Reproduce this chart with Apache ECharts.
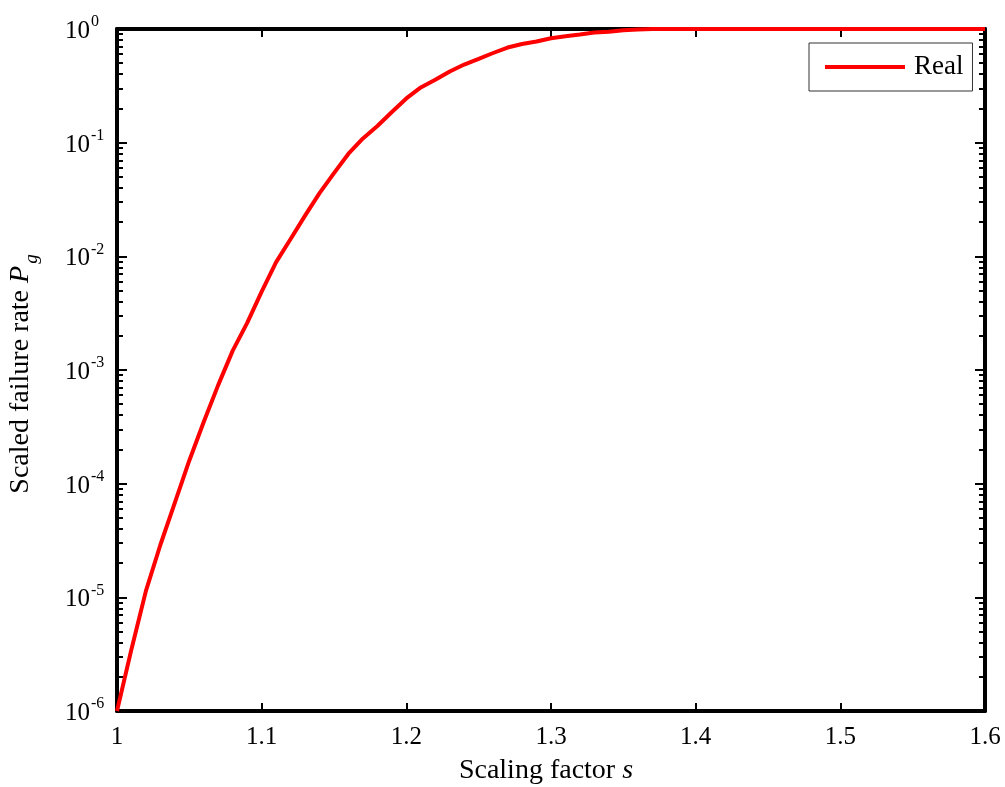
<!DOCTYPE html>
<html>
<head>
<meta charset="utf-8">
<script src="https://cdn.jsdelivr.net/npm/echarts@6/dist/echarts.min.js"></script>
<style>
html,body{margin:0;padding:0;background:#fff;}
#chart{width:1005px;height:787px;}
</style>
</head>
<body>
<div id="chart"></div>
<script>
// Scaling factor s
const sValues = [1.00,1.01,1.02,1.03,1.04,1.05,1.06,1.07,1.08,1.09,
  1.10,1.11,1.12,1.13,1.14,1.15,1.16,1.17,1.18,1.19,
  1.20,1.21,1.22,1.23,1.24,1.25,1.26,1.27,1.28,1.29,
  1.30,1.31,1.32,1.33,1.34,1.35,1.36,1.37,1.40,1.45,1.50,1.55,1.60];
// Scaled failure rate Pg
const pValues = [1e-6,3.5e-6,1.14e-5,2.9e-5,6.8e-5,1.6e-4,3.5e-4,7.4e-4,1.48e-3,2.6e-3,
  4.9e-3,8.9e-3,1.42e-2,2.28e-2,3.6e-2,5.4e-2,8.0e-2,0.109,0.140,0.186,
  0.245,0.306,0.357,0.423,0.487,0.547,0.615,0.687,0.738,0.776,
  0.830,0.865,0.895,0.930,0.945,0.975,0.988,1.0,1.0,1.0,1.0,1.0,1.0];
const xTickLabels = ['1','1.1','1.2','1.3','1.4','1.5','1.6'];
const yExponents = [-6,-5,-4,-3,-2,-1,0];
const seriesName = 'Real';

const FONT = '"Liberation Serif", "Times New Roman", serif';
const minorVals = [];
for (let e = -6; e < 0; e++) {
  for (let k = 2; k <= 9; k++) minorVals.push(k * Math.pow(10, e));
}
const data = sValues.map((s, i) => [s, pValues[i]]);

const chart = echarts.init(document.getElementById('chart'), null, {renderer: 'canvas'});

const axisLineStyle = {color: '#000', width: 4};
function yAxisDef(pos, major, showLabel) {
  return {
    type: 'log', logBase: 10, min: 1e-6, max: 1, position: pos,
    axisLine: {show: major, onZero: false, lineStyle: axisLineStyle},
    axisTick: major ? {show: true, inside: true, length: 10, lineStyle: {color: '#000', width: 2}}
                    : {show: true, inside: true, length: 6, customValues: minorVals, lineStyle: {color: '#000', width: 2}},
    axisLabel: {
      show: showLabel, margin: 52, align: 'left',
      formatter: function (v) {
        const e = Math.round(Math.log10(v));
        return '{b|10}{s|' + yExponents[yExponents.indexOf(e)] + '}';
      },
      rich: {
        b: {fontFamily: FONT, fontSize: 25, color: '#000', lineHeight: 30, verticalAlign: 'bottom', padding: [12, 0, 0, 0]},
        s: {fontFamily: FONT, fontSize: 16, color: '#000', lineHeight: 30, verticalAlign: 'top', padding: [0, 0, 14, 1]}
      }
    },
    splitLine: {show: false}, minorTick: {show: false}, minorSplitLine: {show: false}
  };
}

const option = {
  animation: false,
  backgroundColor: '#fff',
  grid: {left: 117, right: 20, top: 29, bottom: 76, containLabel: false},
  xAxis: [
    {
      type: 'value', min: 1, max: 1.6, interval: 0.1, position: 'bottom',
      axisLine: {onZero: false, lineStyle: axisLineStyle},
      axisTick: {inside: true, length: 8, lineStyle: {color: '#000', width: 2}},
      axisLabel: {
        margin: 14, fontFamily: FONT, fontSize: 25, color: '#000',
        formatter: function (v) { return xTickLabels[Math.round((v - 1) * 10)]; }
      },
      splitLine: {show: false}
    },
    {
      type: 'value', min: 1, max: 1.6, interval: 0.1, position: 'top',
      axisLine: {onZero: false, lineStyle: axisLineStyle},
      axisTick: {inside: true, length: 8, lineStyle: {color: '#000', width: 2}},
      axisLabel: {show: false},
      splitLine: {show: false}
    }
  ],
  yAxis: [
    yAxisDef('left', true, true),
    yAxisDef('left', false, false),
    yAxisDef('right', true, false),
    yAxisDef('right', false, false)
  ],
  legend: {
    data: [{name: seriesName, icon: 'rect'}],
    left: 809, top: 43,
    orient: 'vertical',
    backgroundColor: '#fff',
    borderColor: '#333', borderWidth: 1,
    padding: [10, 9, 10, 16],
    itemWidth: 80, itemHeight: 4, itemGap: 0,
    textStyle: {fontFamily: FONT, fontSize: 27, color: '#000', lineHeight: 28, padding: [0, 0, 0, 4]}
  },
  series: [{
    name: seriesName,
    type: 'line',
    xAxisIndex: 0, yAxisIndex: 0,
    data: data,
    symbol: 'none',
    smooth: false,
    lineStyle: {color: '#ff0000', width: 4},
    itemStyle: {color: '#ff0000'},
    z: 5
  }],
  graphic: [
    {
      type: 'text', id: 'xt',
      x: 546, y: 771,
      style: {
        text: '{n|Scaling factor }{i|s}',
        align: 'center', verticalAlign: 'middle',
        rich: {
          n: {fontFamily: FONT, fontSize: 28, fill: '#000'},
          i: {fontFamily: FONT, fontSize: 28, fontStyle: 'italic', fill: '#000'}
        }
      }
    },
    {
      type: 'text', id: 'yt',
      x: 24, y: 374, rotation: Math.PI / 2,
      style: {
        text: '{n|Scaled failure rate }{i|P}{g|g}',
        align: 'center', verticalAlign: 'middle',
        rich: {
          n: {fontFamily: FONT, fontSize: 28, fill: '#000', lineHeight: 34, verticalAlign: 'top'},
          i: {fontFamily: FONT, fontSize: 28, fontStyle: 'italic', fill: '#000', lineHeight: 34, verticalAlign: 'top'},
          g: {fontFamily: FONT, fontSize: 19, fontStyle: 'italic', fill: '#000', lineHeight: 34, verticalAlign: 'bottom', padding: [16, 0, 0, 2]}
        }
      }
    }
  ]
};
chart.setOption(option);
</script>
</body>
</html>
